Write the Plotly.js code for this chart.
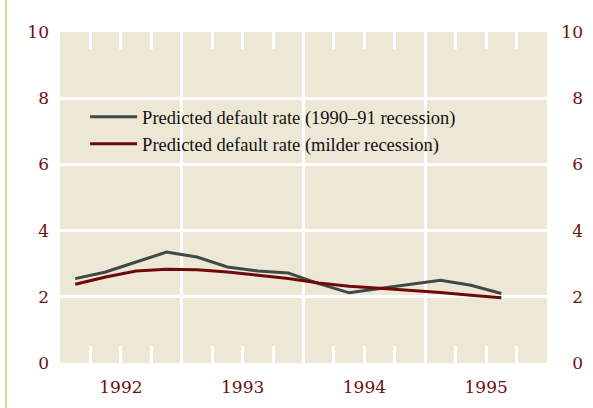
<!DOCTYPE html>
<html>
<head>
<meta charset="utf-8">
<script src="https://cdn.plot.ly/plotly-3.0.1.min.js"></script>
<style>
  html, body { margin: 0; padding: 0; background: #ffffff; }
  #chart { width: 593px; height: 408px; }
</style>
</head>
<body>
<div id="chart"></div>
<script>
// quarterly points, placed at the middle of each quarter
const quarterMid = [1992.125, 1992.375, 1992.625, 1992.875,
                    1993.125, 1993.375, 1993.625, 1993.875,
                    1994.125, 1994.375, 1994.625, 1994.875,
                    1995.125, 1995.375, 1995.625];
const severeRate = [2.55, 2.75, 3.05, 3.35, 3.2, 2.9, 2.78, 2.72,
                    2.4, 2.12, 2.25, 2.38, 2.5, 2.35, 2.1];
const milderRate = [2.38, 2.6, 2.78, 2.83, 2.82, 2.75, 2.65, 2.55,
                    2.42, 2.32, 2.26, 2.2, 2.13, 2.05, 1.97];
const seriesNames = ["Predicted default rate (1990\u201391 recession)",
                     "Predicted default rate (milder recession)"];
const quarterTicks = [1992.25, 1992.5, 1992.75, 1993.25, 1993.5, 1993.75,
                      1994.25, 1994.5, 1994.75, 1995.25, 1995.5, 1995.75];
const yearLabels = {1992.5: "1992", 1993.5: "1993", 1994.5: "1994", 1995.5: "1995"};
const yTicks = [0, 2, 4, 6, 8, 10];

const serif = "'DejaVu Serif', 'Liberation Serif', serif";
const tickFont = { family: serif, size: 17, color: "#701010" };

const traces = [
    {
        x: quarterMid, y: severeRate, name: seriesNames[0],
        type: "scatter", mode: "lines",
        line: { color: "#3e4a47", width: 3 }
    },
    {
        x: quarterMid, y: milderRate, name: seriesNames[1],
        type: "scatter", mode: "lines",
        xaxis: "x2", yaxis: "y2",
        line: { color: "#6e0a0a", width: 3 }
    }
];

const plotRight = (547 - 60) / 523;

const layout = {
    width: 593, height: 408,
    margin: { l: 60, r: 10, t: 32, b: 45 },
    paper_bgcolor: "#ffffff",
    plot_bgcolor: "#ede8d6",
    showlegend: true,
    legend: {
        x: 0.048, y: 0.8, xanchor: "left", yanchor: "top",
        bgcolor: "rgba(0,0,0,0)",
        itemwidth: 47,
        font: { family: "'Liberation Serif', serif", size: 18.5, color: "#111111" },
        tracegroupgap: 0
    },
    xaxis: {
        domain: [0, plotRight],
        range: [1992, 1996], fixedrange: true,
        tickmode: "array",
        tickvals: quarterTicks,
        ticktext: quarterTicks.map(v => yearLabels[v] || ""),
        ticks: "inside", ticklen: 17, tickwidth: 3, tickcolor: "#ffffff",
        tickfont: tickFont, ticklabelstandoff: 12,
        showgrid: false, zeroline: false, showline: false,
        minor: { tickmode: "array", tickvals: [1993, 1994, 1995],
                 showgrid: true, gridcolor: "#ffffff", gridwidth: 3, ticks: "" }
    },
    xaxis2: {
        matches: "x", overlaying: "x", side: "top", anchor: "y",
        tickmode: "array", tickvals: quarterTicks,
        ticks: "inside", ticklen: 17, tickwidth: 3, tickcolor: "#ffffff",
        showticklabels: false, showgrid: false, zeroline: false, showline: false
    },
    yaxis: {
        range: [0, 10], fixedrange: true,
        tickmode: "array", tickvals: yTicks,
        tickfont: tickFont, ticklabelstandoff: 10,
        showgrid: true, gridcolor: "#ffffff", gridwidth: 3,
        zeroline: false, showline: false, ticks: ""
    },
    yaxis2: {
        matches: "y", overlaying: "y", anchor: "free", side: "left",
        position: (583 - 60) / 523,
        tickmode: "array", tickvals: yTicks,
        tickfont: tickFont,
        showgrid: false, zeroline: false, showline: false, ticks: ""
    },
    shapes: [
        { type: "line", xref: "paper", yref: "paper",
          x0: (6 - 60) / 523, x1: (6 - 60) / 523, y0: -0.2, y1: 1.2,
          line: { color: "#e3d79e", width: 2 } }
    ]
};

Plotly.newPlot("chart", traces, layout, { displayModeBar: false, staticPlot: true });
</script>
</body>
</html>
